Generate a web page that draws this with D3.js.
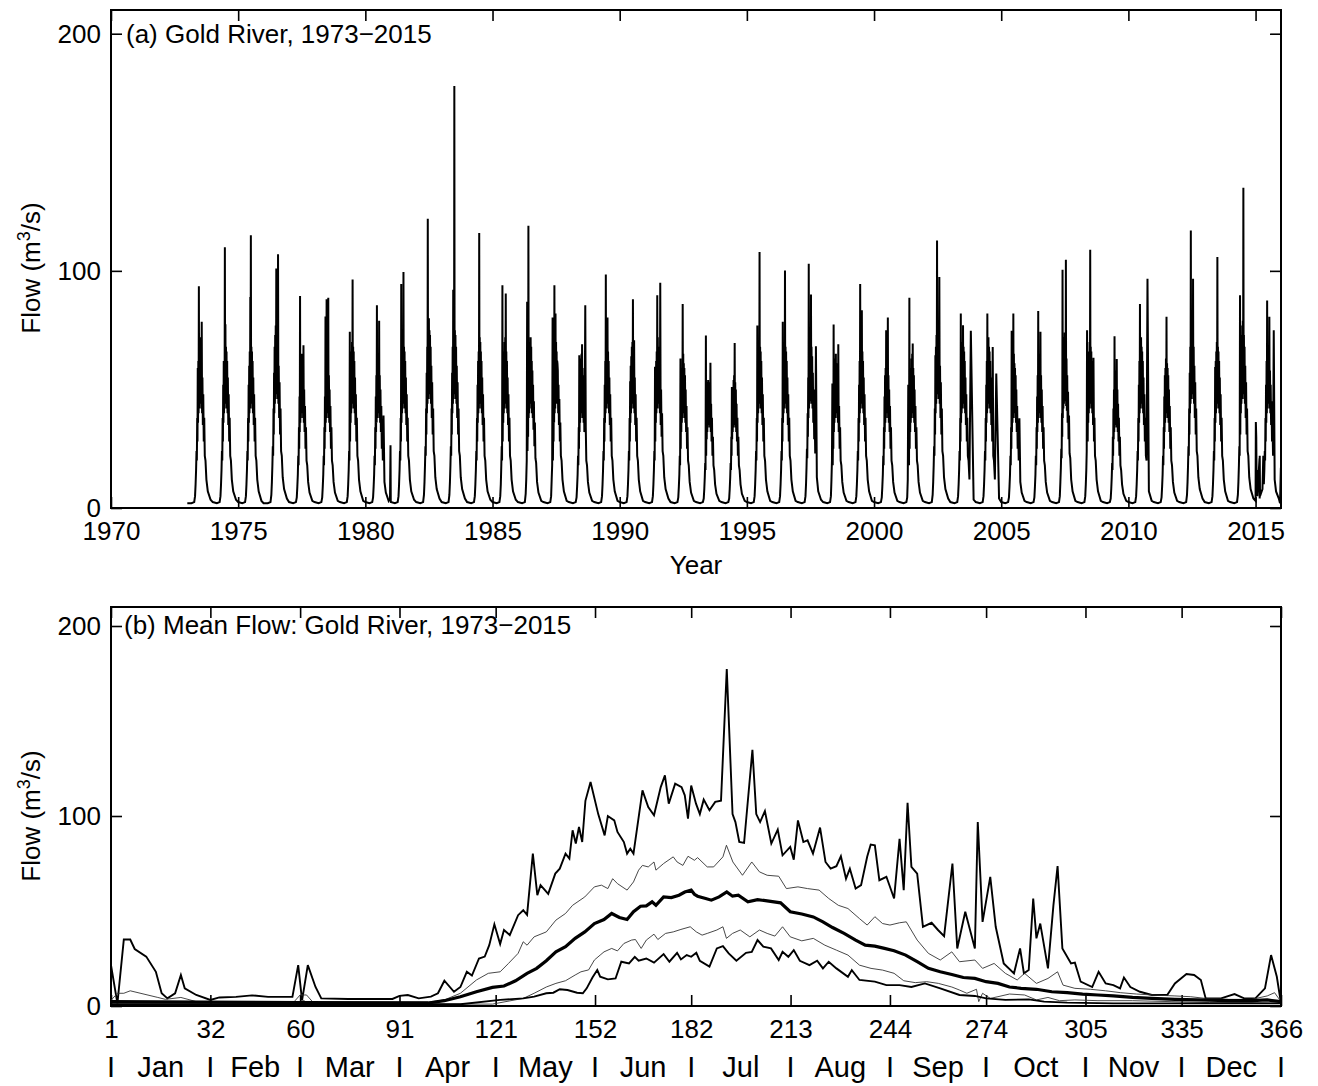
<!DOCTYPE html>
<html>
<head>
<meta charset="utf-8">
<script src="https://cdn.jsdelivr.net/npm/d3@7"></script>
<style>
  body { margin: 0; background: #fff; }
  svg text { font-family: "Liberation Sans", Arial, Helvetica, sans-serif; fill: #000; }
</style>
</head>
<body>
<svg id="chart" width="1318" height="1086"></svg>
<script>
// ---- panel (a): daily flow, sampled on a fixed set of days of year per year ----
const yearDays = [1, 60, 100, 112, 120, 127, 133, 138, 143, 147, 151, 155, 159, 163, 167, 171, 175, 179,
  183, 187, 191, 195, 199, 203, 208, 213, 218, 224, 230, 237, 244, 252, 262, 275, 295, 335];
const flowYears = [1973, 1974, 1975, 1976, 1977, 1978, 1979, 1980, 1981, 1982, 1983, 1984, 1985, 1986,
  1987, 1988, 1989, 1990, 1991, 1992, 1993, 1994, 1995, 1996, 1997, 1998, 1999, 2000, 2001, 2002,
  2003, 2004, 2005, 2006, 2007, 2008, 2009, 2010, 2011, 2012, 2013, 2014, 2015];
const annualFlows = [
  [2, 2, 2.5, 5, 10, 16, 24, 20, 38, 28, 59, 36, 62, 40, 93.5, 42, 70, 45, 72, 44, 68, 45, 66, 42, 78.5, 40, 55, 35, 48, 28, 38, 22, 20, 12, 7, 3.5],
  [2.5, 2, 2.5, 5, 10, 16, 24, 20, 38, 28, 52, 36, 62, 40, 60, 42, 110, 45, 77.5, 44, 68, 45, 66, 42, 62, 40, 55, 35, 48, 28, 38, 22, 20, 12, 7, 3.5],
  [2.5, 2, 2.5, 5, 10, 16, 24, 20, 38, 28, 52, 36, 60, 40, 66, 42, 89, 45, 115, 44, 68, 45, 66, 42, 62, 40, 55, 35, 48, 28, 38, 22, 20, 12, 7, 3],
  [2, 2, 2.5, 5.5, 11, 18, 26, 22, 42, 31, 57, 40, 68, 44, 73, 46, 77, 50, 101, 48, 98, 50, 73, 46, 107, 44, 60, 38, 53, 31, 42, 24, 22, 13, 8, 4],
  [2.5, 2, 2.5, 4.5, 9, 14, 22, 18, 34, 25, 47, 32, 89.4, 36, 59, 38, 63, 40, 65, 40, 61, 40, 59, 38, 68.6, 36, 50, 32, 43, 25, 34, 20, 18, 11, 6.5, 3],
  [2.5, 2, 2.5, 4.5, 9, 14, 22, 18, 34, 25, 47, 32, 80.8, 36, 59, 38, 88, 40, 65, 40, 61, 40, 88.7, 38, 56, 36, 50, 32, 43, 25, 34, 20, 18, 11, 6.5, 3],
  [2.5, 2, 2.5, 5, 10, 16, 24, 20, 74.3, 28, 52, 36, 62, 40, 66, 42, 70, 45, 96.4, 44, 68, 45, 66, 42, 62, 40, 55, 35, 48, 28, 38, 22, 20, 12, 7, 3],
  [2.5, 2, 2.5, 4.5, 9, 14, 22, 18, 34, 25, 47, 32, 56, 36, 85.5, 38, 63, 40, 65, 40, 61, 40, 79, 38, 56, 36, 50, 32, 43, 25, 34, 20, 39, 11, 6.5, 3],
  [2.5, 2, 2.5, 5, 10, 16, 24, 20, 38, 28, 94.5, 36, 62, 40, 66, 42, 70, 45, 99.5, 44, 68, 45, 66, 42, 62, 40, 55, 35, 48, 28, 38, 22, 20, 12, 7, 3.5],
  [2.5, 2, 2.5, 5.5, 11, 18, 26, 22, 42, 31, 57, 40, 68, 44, 122, 46, 77, 50, 80, 48, 75, 50, 73, 46, 68, 44, 60, 38, 53, 31, 42, 24, 22, 13, 8, 4],
  [2.5, 2, 2.5, 5.5, 11, 18, 26, 22, 42, 31, 57, 40, 68, 44, 92, 46, 77, 50, 178, 48, 75, 50, 73, 46, 68, 44, 60, 38, 53, 31, 42, 24, 22, 13, 8, 4],
  [2.5, 2, 2.5, 5, 10, 16, 24, 20, 38, 28, 52, 36, 62, 40, 66, 42, 116, 45, 72, 44, 70, 45, 66, 42, 62, 40, 55, 35, 48, 28, 38, 22, 20, 12, 7, 3.5],
  [2.5, 2, 2.5, 5, 10, 18, 26, 20, 93.9, 28, 52, 36, 62, 40, 66, 42, 70, 45, 72, 44, 90.4, 45, 66, 42, 62, 40, 55, 35, 48, 28, 38, 22, 20, 12, 7, 3.5],
  [2.5, 2, 2.5, 6, 12, 20, 87, 24, 40, 30, 119, 38, 62, 40, 66, 42, 70, 45, 72, 44, 68, 45, 62, 40, 58, 38, 52, 33, 45, 26, 36, 21, 19, 11, 6.5, 3],
  [2.5, 2, 2.5, 5, 12, 18, 80.3, 20, 38, 28, 52, 36, 93.9, 40, 66, 42, 82, 45, 70, 44, 66, 45, 62, 60.9, 58, 40, 52, 35, 46, 28, 36, 22, 20, 12, 7, 3],
  [2.5, 2, 2.5, 4.5, 9, 14, 22, 18, 34, 25, 64.4, 32, 56, 36, 59, 38, 63, 40, 65, 40, 69, 40, 59, 38, 56, 36, 50, 32, 45, 85.5, 34, 20, 18, 11, 6.5, 3],
  [2.5, 2, 2.5, 5, 10, 16, 24, 20, 38, 28, 52, 36, 62, 40, 98.5, 42, 70, 45, 72, 44, 80.3, 45, 66, 42, 62, 40, 55, 35, 48, 28, 38, 22, 20, 12, 7, 3],
  [2.5, 2, 2.5, 5, 10, 16, 24, 20, 38, 28, 53.4, 36, 60, 40, 64, 42, 68, 45, 70, 44, 88, 45, 64, 42, 70.7, 40, 55, 35, 48, 28, 38, 22, 20, 12, 7, 3],
  [2.5, 2, 2.5, 5, 10, 16, 24, 20, 59.6, 28, 52, 36, 62, 40, 66, 42, 89.7, 45, 72, 44, 68, 45, 66, 42, 62, 40, 95, 35, 50, 30, 40, 24, 22, 13, 8, 4],
  [2.5, 2, 2.5, 4.5, 9, 14, 22, 18, 63, 25, 47, 32, 56, 36, 59, 38, 86, 40, 65, 40, 61, 40, 59, 38, 56, 36, 50, 32, 43, 25, 34, 20, 18, 11, 6.5, 3],
  [2.5, 2, 2.5, 4, 8, 13, 19, 16, 72.7, 22, 42, 29, 50, 32, 53, 34, 54, 36, 52, 35, 50, 36, 53, 34, 61.2, 32, 44, 28, 38, 22, 30, 18, 16, 10, 6, 3],
  [2.5, 2, 2.5, 4, 8, 13, 19, 16, 30, 22, 51, 29, 48, 32, 50, 34, 54, 36, 56, 35, 69.6, 36, 53, 34, 50, 32, 44, 28, 38, 22, 30, 18, 16, 10, 6, 3],
  [2.5, 2, 2.5, 5, 10, 16, 24, 20, 38, 28, 77, 36, 62, 40, 66, 42, 70, 45, 107.9, 44, 68, 45, 66, 42, 62, 40, 55, 35, 48, 28, 38, 22, 20, 12, 7, 3],
  [2.5, 2, 2.5, 5, 10, 16, 24, 20, 38, 28, 78.5, 36, 62, 40, 66, 42, 70, 45, 100.2, 44, 68, 45, 66, 42, 62, 40, 55, 35, 48, 28, 38, 22, 20, 12, 7, 3],
  [2.5, 2, 2.5, 5, 10, 17, 25, 21, 40, 30, 55, 38, 103, 42, 68, 44, 72, 46, 74, 45, 90, 46, 68, 44, 64, 42, 57, 36, 50, 29, 40, 23, 68.2, 13, 7, 3.5],
  [2.5, 2, 2.5, 5, 12, 20, 52.5, 18, 34, 25, 77.4, 32, 56, 36, 59, 38, 63, 40, 65, 40, 61, 40, 59, 38, 56, 36, 69, 32, 43, 25, 34, 20, 18, 11, 6.5, 3],
  [2.5, 2, 2.5, 5, 10, 16, 24, 20, 38, 28, 52, 36, 62, 40, 94.5, 42, 70, 45, 72, 44, 83.4, 45, 66, 42, 62, 40, 55, 35, 48, 28, 38, 22, 20, 12, 7, 3],
  [2.5, 2, 2.5, 4.5, 9, 14, 22, 18, 34, 25, 47, 32, 56, 36, 59, 38, 75, 40, 65, 40, 61, 40, 80.3, 38, 56, 36, 50, 32, 43, 25, 34, 20, 18, 11, 6.5, 3],
  [2.5, 2, 2.5, 4.5, 12, 52, 22, 18, 88.7, 25, 47, 32, 56, 36, 59, 38, 63, 40, 65, 40, 69.4, 40, 59, 38, 56, 36, 50, 32, 43, 25, 34, 20, 18, 11, 6.5, 3],
  [2.5, 2, 2.5, 5.5, 11, 18, 26, 22, 42, 31, 64.4, 40, 68, 44, 73, 46, 112.8, 50, 79, 48, 75, 50, 73, 46, 97.4, 44, 60, 38, 53, 31, 42, 24, 22, 13, 8, 4],
  [2.5, 2, 2.5, 5, 10, 16, 24, 20, 38, 28, 82, 36, 62, 40, 66, 42, 70, 45, 77.1, 44, 68, 45, 66, 42, 62, 40, 55, 35, 48, 28, 38, 22, 20, 12, 74.7, 3.5],
  [2.5, 2, 2.5, 5, 10, 16, 24, 20, 38, 28, 52, 36, 62, 40, 82, 42, 70, 45, 72, 44, 68, 45, 66, 42, 62, 40, 55, 35, 48, 28, 67.9, 22, 20, 12, 56.7, 4],
  [2.5, 2, 2.5, 4.5, 9, 14, 22, 18, 34, 25, 74.7, 32, 56, 36, 59, 38, 82, 40, 65, 40, 61, 40, 59, 38, 56, 36, 50, 32, 43, 25, 34, 20, 37.8, 11, 6.5, 3],
  [2.5, 2, 2.5, 4.5, 9, 14, 22, 18, 34, 25, 47, 32, 56, 36, 83.1, 38, 63, 40, 65, 40, 61, 40, 74.3, 38, 56, 36, 50, 32, 43, 25, 34, 20, 18, 11, 6.5, 3],
  [2.5, 2, 2.5, 5, 11, 17, 25, 21, 40, 30, 100.5, 38, 64, 42, 68, 44, 72, 46, 74, 45, 70, 46, 104.7, 43, 63, 41, 56, 36, 49, 29, 39, 23, 21, 12, 7, 3],
  [2.5, 2, 2.5, 5, 10, 16, 24, 75, 38, 28, 52, 36, 62, 40, 66, 42, 70, 45, 108.9, 44, 68, 45, 66, 42, 62, 40, 55, 35, 63.4, 28, 38, 22, 20, 12, 7, 3],
  [2.5, 2, 2.5, 4, 8, 13, 19, 16, 30, 22, 42, 29, 50, 32, 72.4, 34, 56, 36, 58, 35, 54, 36, 62.8, 34, 50, 32, 44, 28, 38, 22, 30, 18, 16, 10, 6, 3],
  [2.5, 2, 2.5, 5, 10, 16, 24, 20, 38, 28, 52, 36, 62, 40, 86, 42, 70, 45, 72, 44, 68, 45, 66, 42, 62, 40, 55, 35, 48, 28, 38, 22, 20, 96.7, 7, 3],
  [2.5, 2, 2.5, 4.5, 9, 14, 22, 18, 34, 25, 47, 32, 56, 36, 59, 38, 63, 40, 80.6, 40, 61, 40, 59, 38, 56, 36, 50, 32, 43, 25, 34, 20, 18, 11, 6.5, 3],
  [2.5, 2, 2.5, 5.5, 11, 18, 26, 22, 42, 31, 57, 40, 68, 44, 117, 46, 77, 50, 79, 48, 75, 50, 96.7, 46, 68, 44, 60, 38, 53, 31, 42, 24, 22, 13, 8, 4],
  [2.5, 2, 2.5, 5, 10, 16, 24, 20, 38, 28, 59.5, 36, 62, 40, 66, 42, 70, 45, 105.8, 44, 68, 45, 66, 42, 62, 40, 55, 35, 48, 28, 38, 22, 20, 12, 7, 3],
  [2.5, 2, 2.5, 5.5, 11, 18, 26, 22, 89.7, 31, 70.7, 40, 68, 44, 73, 46, 77, 50, 79, 48, 135, 50, 73, 46, 68, 44, 60, 38, 53, 31, 42, 24, 22, 13, 8, 4],
  [3, 4, 8, 22, 10, 16, 24, 20, 38, 28, 52, 36, 62, 40, 87.5, 42, 66, 45, 68, 44, 64, 45, 80.6, 42, 58, 40, 52, 35, 45, 28, 36, 22, 75, 12, 7, 4]
];
// short winter events: [year, day of year, flow]
const flowEvents = [
  [1980, 355, 4], [1980, 362, 26.5],
  [2015, 5, 36.3], [2015, 11, 30], [2015, 17, 6], [2015, 22, 16], [2015, 27, 5],
  [2015, 58, 21], [2015, 61, 22], [2015, 65, 5],
  [2015, 352, 2], [2015, 364, 17]
];

// ---- panel (b): day-of-year statistics, [day, flow] ----
const maxFlow = [[1,21.5],[3,1.4],[5,35],[7,35],[8.4,30],[12,26],[15,18],[16.8,6.7],[18.6,4],[21,6.7],[22.8,16.3],[24,9.3],[27.6,5.8],[32,3.2],[34.8,4.5],[40,4.8],[45,5.6],[50,4.8],[57.6,4.8],[59.4,21.5],[60.6,3],[62.4,21.5],[64.8,10],[66.6,4],[75,3.7],[88.8,3.7],[91,5.3],[93.6,5.8],[97,4],[100.8,4.9],[103,6.7],[105,13.3],[108,7.5],[110,10],[112,18],[113.6,16],[115.8,25],[117.6,26],[119,32],[120.6,43],[122.4,32.6],[123.6,40],[125.4,37.3],[128,47.8],[129.6,50.4],[130.8,48],[132.6,80.2],[134,58.3],[135,63.6],[137.4,59],[139.6,69.7],[141,72.3],[142.8,80.2],[144,77.6],[145,92.5],[146,85.5],[147,94.2],[148,86.3],[149,108],[150.6,117.9],[153,101],[155,89.8],[156,100],[158,97.7],[159,91.6],[161,86.3],[162,80.2],[163,82.8],[164,80.2],[166.8,113.5],[168.6,104.7],[170.4,100.4],[172.5,115.2],[173.8,121.4],[175,106.5],[177,117],[179,115.2],[180,110.9],[181,98.6],[182,116],[183.5,106.5],[184.7,101],[185.9,108.6],[187.7,103],[189.5,107.4],[191.3,108],[193.1,177.4],[194.9,101],[195.8,96.8],[197,86.3],[198.5,85.8],[201.1,134.8],[202.3,101],[203.5,96.8],[205,102.6],[207,85.5],[209,92.8],[210.5,79.3],[212.9,83.7],[214,77],[215.3,97.7],[217,86.3],[218.3,87.2],[220,80.2],[222.2,93.9],[223.9,75.8],[225.5,72.3],[227.3,73.6],[228.7,78.8],[230.3,67],[231.5,72.3],[233.3,61.8],[235,63.6],[236.9,78.5],[238,85],[239.3,84.6],[240.7,66.2],[242.9,68],[245.3,56.6],[247,88],[248.3,61],[249.5,107],[250.7,73.2],[252.5,69.7],[254.3,41.7],[257,43.8],[259,40],[260.9,36.8],[263.5,75],[265,30.3],[267.5,49.6],[270.5,30.3],[271.4,96.8],[272.9,44.3],[275.3,68],[277,41.7],[279.5,22.4],[282.7,17.2],[284.6,30.3],[285.8,17.2],[287.3,18.9],[288.7,56.6],[289.7,35.6],[290.9,43.4],[293.3,19.8],[295,53],[296.3,73.6],[297.8,30.3],[300.5,22.4],[301.7,22.8],[303.5,12.8],[307.1,10],[309.1,18],[311.3,11.9],[313.7,11],[315.8,9.3],[317,15],[319,10],[322,7.5],[325.7,5.8],[330.5,5.8],[332.9,11.9],[336.5,16.8],[338.9,16.3],[341,13.7],[342.5,4],[347.3,4],[351.5,6.3],[354.5,4],[358,4],[361,9.3],[362.9,26.8],[364.7,15.4],[366,1.4]];
const upperFlow = [[1,3],[3,6.7],[5,6.7],[7,8],[15.6,4.5],[18,3.5],[22.8,4.5],[27.6,2.3],[40,2],[58,2],[60,5.8],[62,5.8],[64,2],[100,2],[105,3.2],[110,6.7],[115,13.7],[118.7,17.2],[122.4,18],[125,22.4],[128,27.7],[129.6,33.8],[130.8,32],[133,36.4],[136.8,39],[139.8,45.2],[142.8,48.7],[145,53],[148.8,57.4],[151.8,62.7],[154,63.6],[156,61.8],[157.5,67],[159,64.4],[162,61],[164,65.3],[165.6,71.5],[166.8,74],[168.6,73.2],[170.4,75.8],[171,71.5],[173.4,75],[176.4,78.5],[177.6,75.8],[179.4,74],[181,78.8],[183,76.7],[184,78.1],[187,73.2],[189,73.2],[191.9,78.5],[193,84.6],[195,75.8],[198,68.8],[200.9,75.8],[203.3,70.6],[205.7,68.8],[209.3,68.3],[211.7,61.8],[215.3,62.7],[218.3,61.8],[221.9,61],[224.9,56.6],[227.9,53],[230.9,51.3],[234.5,46],[236.9,42.6],[239.3,47],[241.7,43.4],[244,42.6],[247,43.8],[249.1,44.3],[252.5,34.7],[256,27.7],[259.7,24.2],[263.3,28.5],[265.7,23.3],[270.5,24.2],[272.9,19.8],[276.5,22.4],[280,17.2],[283.7,13.7],[286,17.2],[289.7,11.9],[293.3,14.5],[296.3,18],[298,11],[301.7,9.3],[306.5,8.8],[311.3,8],[316,7],[320.9,6.3],[325.7,5.8],[332.9,5.3],[337.7,4.9],[342.5,4],[349.7,3.5],[356.9,3.5],[361.7,5.3],[364,7],[366,2.3]];
const meanFlow = [[1,2.3],[30,2],[60,1.8],[100,1.6],[105,2.8],[110,4.9],[115,7.5],[120,9.8],[123.6,10.5],[127.2,13.3],[130.8,17.2],[133.8,19.8],[136.8,23.8],[139.8,28.5],[142.8,31.2],[145.8,35.6],[148.8,39],[151.8,43.4],[154.8,45.5],[157.2,48.7],[159.6,46.6],[162,45.5],[164,49.6],[166.2,52.5],[168,52.7],[169.8,54.8],[171,53],[173.4,57.4],[175.8,57.1],[178.2,58.3],[180,60],[182,61],[183,58.8],[184,57.8],[186.5,56.6],[188.3,55.7],[190.7,57.4],[193.1,60],[194.9,57.8],[196.7,58.3],[199.7,54.8],[202.7,56],[205.7,55.3],[209.9,54.3],[212.9,49.6],[216.5,48.4],[220.1,46.9],[223.1,44.3],[226.1,41.3],[229.7,38.2],[233.3,34.7],[236.3,32],[239.3,31.5],[242.3,30.3],[245.3,29.1],[248.9,26.8],[252.5,23.3],[256,19.8],[259.7,18],[263.3,16.6],[266.9,15],[270.5,14.5],[274,12.8],[277.7,11.9],[281.3,10],[284.9,9.3],[289.7,8.8],[294.5,7.5],[299.3,7],[304.1,6.3],[308.9,5.8],[313.7,5.3],[319.7,4.5],[325.7,4],[332.9,3.5],[340,3.2],[349.7,2.8],[356.9,2.8],[361.7,3.2],[366,2.3]];
const lowerFlow = [[1,1],[60,1],[61,3],[63,1],[120,1],[129.6,4],[133,6.7],[136.8,10],[139.8,11.9],[142.8,13.3],[145.8,16.3],[147.6,18],[150,19],[151.8,24.2],[153.6,26.8],[154.8,28.5],[157.2,30.3],[159,29],[161,32.9],[163.4,34.7],[164.6,35],[166.4,30.3],[168,34.7],[170.4,37.8],[171.6,35],[174,38.2],[176.4,39],[178.8,40.3],[181.7,41.7],[183.6,39],[185.4,37.3],[187,38.2],[190,40],[191.9,41.7],[193,35.6],[194.9,38.2],[197.3,40],[200.3,36.4],[203.3,40],[205.7,38.2],[208.1,36.8],[210.5,41.7],[212.9,36.4],[216.5,34.3],[220.1,35.6],[223.7,32],[227.3,29.4],[230.9,26.8],[234.5,21.5],[238.1,19.8],[241.7,18.9],[245.3,17.2],[248.3,13.3],[251.9,12.3],[255.5,12.8],[259.1,11.9],[263.3,10],[265.7,8.4],[268,6.7],[271,8.8],[271.7,2.3],[272.9,6.7],[275.3,4],[277.7,4.9],[281.3,6.3],[286,5.8],[289.7,3.2],[293.3,4.5],[296.9,2.8],[301.7,3.2],[308.9,2.8],[319.7,2.8],[331.7,2.3],[343.7,1.8],[355.7,1.8],[366,1.4]];
const minFlow = [[1,0.9],[110,0.9],[122.4,3.2],[129.6,4],[133,4.9],[136.8,6.7],[139,7],[141,8.8],[143.4,8.4],[146.4,7],[148.2,6.7],[149.4,9.3],[151.2,15],[152.7,18.9],[153.6,15.4],[156,14],[158.4,14.5],[160.2,23.3],[162.6,22.4],[164.4,25.9],[165.6,23.8],[168,25],[170.4,22.8],[173.4,27.3],[175.2,23.3],[177.6,28],[178.8,24.5],[180.6,26.8],[182,25.9],[183.6,28],[184.7,23.8],[187.7,20.7],[190,30.3],[191.9,31.5],[193.7,27.7],[196.1,23.8],[199.1,28],[200.9,28.5],[202.7,34.7],[204.5,31.2],[206.9,30.3],[209.3,24.2],[210.5,28.5],[212.3,25.9],[214,29.4],[215.9,23.8],[218.9,21.5],[221.3,23.8],[223.1,19.8],[224.9,23.3],[227.3,19.8],[230.9,15.4],[232.1,18.9],[234.5,13.7],[239.3,12.8],[242.9,11],[247,11],[250.7,10],[254.9,11.9],[259.7,9.3],[265.7,5.8],[270.5,5.3],[274,4],[280,3.2],[287.3,3.5],[292.1,2.3],[299.3,1.8],[313.7,1.4],[337.7,1.4],[366,1.4]];

const yearTicks = [1970, 1975, 1980, 1985, 1990, 1995, 2000, 2005, 2010, 2015];
const dayTicks = [1, 32, 60, 91, 121, 152, 182, 213, 244, 274, 305, 335, 366];
const monthNames = ["Jan", "Feb", "Mar", "Apr", "May", "Jun", "Jul", "Aug", "Sep", "Oct", "Nov", "Dec"];
const flowTicks = [0, 100, 200];

// ---- layout ----
const W = 1318, H = 1086;
const left = 111, right = 1281;
const boxA = {top: 10, bottom: 508};
const boxB = {top: 607, bottom: 1006};
const fontSize = 26;

const svg = d3.select("#chart");
svg.append("rect").attr("width", W).attr("height", H).attr("fill", "#fff");

const xA = d3.scaleLinear().domain([1970, 2016]).range([left, right]);
const yA = d3.scaleLinear().domain([0, 210]).range([boxA.bottom, boxA.top]);
const xB = d3.scaleLinear().domain([1, 366]).range([left, right]);
const yB = d3.scaleLinear().domain([0, 210]).range([boxB.bottom, boxB.top]);

function drawFrame(x, y, box, xTickVals, id) {
  const g = svg.append("g");
  g.append("g").attr("transform", `translate(0,${box.bottom})`)
    .call(d3.axisBottom(x).tickValues(xTickVals).tickSizeInner(-11).tickSizeOuter(0).tickPadding(14).tickFormat(d3.format("d")));
  g.append("g").attr("transform", `translate(0,${box.top})`)
    .call(d3.axisTop(x).tickValues(xTickVals).tickSizeInner(-11).tickSizeOuter(0).tickFormat(""));
  g.append("g").attr("transform", `translate(${left},0)`)
    .call(d3.axisLeft(y).tickValues(flowTicks).tickSizeInner(-11).tickSizeOuter(0).tickPadding(10).tickFormat(d3.format("d")));
  g.append("g").attr("transform", `translate(${right},0)`)
    .call(d3.axisRight(y).tickValues(flowTicks).tickSizeInner(-11).tickSizeOuter(0).tickFormat(""));
  g.selectAll(".domain").remove();
  g.selectAll(".tick line").attr("stroke", "#000").attr("stroke-width", 1.6);
  g.selectAll(".tick text").attr("font-size", fontSize).attr("font-family", null).attr("fill", "#000");
  g.append("rect").attr("x", left).attr("y", box.top)
    .attr("width", right - left).attr("height", box.bottom - box.top)
    .attr("fill", "none").attr("stroke", "#000").attr("stroke-width", 2);
  svg.append("clipPath").attr("id", id).append("rect")
    .attr("x", left).attr("y", box.top).attr("width", right - left).attr("height", box.bottom - box.top);
  return g;
}

function yLabel(cy) {
  const t = svg.append("text").attr("transform", `translate(40,${cy}) rotate(-90)`)
    .attr("text-anchor", "middle").attr("font-size", fontSize);
  t.append("tspan").text("Flow (m");
  t.append("tspan").attr("dy", -10).attr("font-size", 18).text("3");
  t.append("tspan").attr("dy", 10).text("/s)");
}

// ---- panel (a) ----
drawFrame(xA, yA, boxA, yearTicks, "clipA");
const series = [];
flowYears.forEach((yr, i) => yearDays.forEach((d, j) => series.push({t: yr + (d - 1) / 365, v: annualFlows[i][j]})));
flowEvents.forEach(([yr, d, v]) => series.push({t: yr + (d - 1) / 365, v: v}));
series.sort((a, b) => a.t - b.t);

svg.append("path").datum(series)
  .attr("clip-path", "url(#clipA)")
  .attr("fill", "none").attr("stroke", "#000").attr("stroke-width", 2).attr("stroke-linejoin", "miter")
  .attr("d", d3.line().x(d => xA(d.t)).y(d => yA(d.v)));

svg.append("text").attr("x", 126).attr("y", 43).attr("font-size", fontSize).text("(a) Gold River, 1973\u22122015");
svg.append("text").attr("x", (left + right) / 2).attr("y", 574).attr("text-anchor", "middle")
  .attr("font-size", fontSize).text("Year");
yLabel(268);

// ---- panel (b) ----
drawFrame(xB, yB, boxB, dayTicks, "clipB");
const dayLine = d3.line().x(d => xB(d[0])).y(d => yB(d[1]));
const bLines = [
  {data: maxFlow, w: 1.9, c: "#000"},
  {data: upperFlow, w: 0.9, c: "#333"},
  {data: lowerFlow, w: 0.9, c: "#333"},
  {data: minFlow, w: 1.9, c: "#000"},
  {data: meanFlow, w: 3.2, c: "#000"}
];
svg.append("g").attr("clip-path", "url(#clipB)").selectAll("path").data(bLines).join("path")
  .attr("fill", "none").attr("stroke", d => d.c).attr("stroke-width", d => d.w)
  .attr("d", d => dayLine(d.data));

svg.append("text").attr("x", 124).attr("y", 634).attr("font-size", fontSize)
  .text("(b) Mean Flow: Gold River, 1973\u22122015");
yLabel(816);

// month row under the day axis
const monthRow = svg.append("g").attr("font-size", 29);
monthRow.selectAll("text.sep").data(dayTicks).join("text").attr("class", "sep")
  .attr("x", d => xB(d)).attr("y", 1077).attr("text-anchor", "middle").text("I");
monthRow.selectAll("text.mon").data(monthNames).join("text").attr("class", "mon")
  .attr("x", (d, i) => xB((dayTicks[i] + dayTicks[i + 1]) / 2)).attr("y", 1077)
  .attr("text-anchor", "middle").text(d => d);
</script>
</body>
</html>
